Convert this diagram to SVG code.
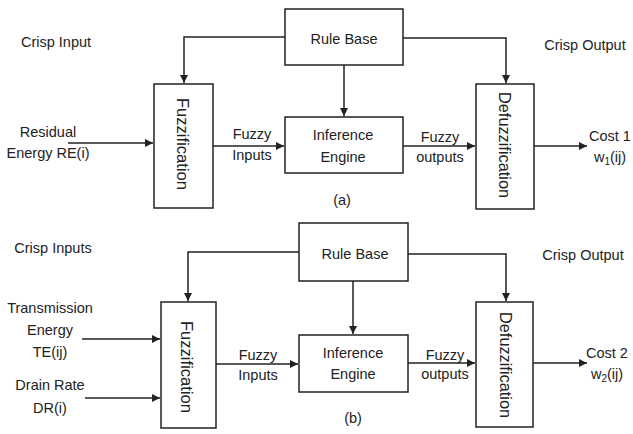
<svg xmlns="http://www.w3.org/2000/svg" width="633" height="434" viewBox="0 0 633 434">
<defs>
<style>
text{font-family:"Liberation Sans",Arial,sans-serif;font-size:14.5px;fill:#222;text-anchor:middle}
.box{fill:#fff;stroke:#222;stroke-width:1.5}
.rot{font-size:16px}
.con path{fill:none;stroke:#222;stroke-width:1.5;marker-end:url(#ah)}
.con path.plain{marker-end:none}
</style>
<marker id="ah" markerUnits="userSpaceOnUse" markerWidth="9" markerHeight="8" refX="8" refY="4" orient="auto">
<path d="M0,0 L8,4 L0,8 z" fill="#222"/>
</marker>
</defs>
<rect width="633" height="434" fill="#fff"/>

<g id="connectors" class="con">
<path d="M285,37 H184 V83"/>
<path d="M344,65 V116"/>
<path d="M403,38 H506 V83"/>
<path d="M68,143 H153"/>
<path d="M213,146 H284"/>
<path d="M403,146 H475"/>
<path d="M534,146 H587"/>
<path d="M299,252 H188 V301"/>
<path d="M353,281 V334"/>
<path d="M408,254 H506 V301"/>
<path d="M82,339 H160"/>
<path d="M85,398 H160"/>
<path d="M216,364 H298"/>
<path d="M408,363 H475"/>
<path d="M533,363 H587"/>
</g>

<g id="a-labels">
<text x="56" y="47">Crisp Input</text>
<text x="585" y="50">Crisp Output</text>
<text x="48" y="137">Residual</text>
<text x="48" y="158">Energy RE(i)</text>
<text x="252" y="139">Fuzzy</text>
<text x="252" y="160">Inputs</text>
<text x="440" y="142">Fuzzy</text>
<text x="440" y="162">outputs</text>
<text x="610" y="141">Cost 1</text>
<text x="610" y="162">w<tspan font-size="10" dy="3">1</tspan><tspan dy="-3">(ij)</tspan></text>
<text x="342" y="205">(a)</text>
</g>
<g id="a-rulebase"><rect class="box" x="285" y="9" width="118" height="56"/><text x="344" y="44">Rule Base</text></g>
<g id="a-fuzzification"><rect class="box" x="154" y="84" width="59" height="124"/><text class="rot" transform="translate(182,144) rotate(90)" y="5.5" textLength="92" lengthAdjust="spacingAndGlyphs">Fuzzification</text></g>
<g id="a-inference"><rect class="box" x="285" y="117" width="118" height="56"/><text x="343" y="140">Inference</text><text x="343" y="162">Engine</text></g>
<g id="a-defuzzification"><rect class="box" x="476" y="84" width="58" height="125"/><text class="rot" transform="translate(504,145) rotate(90)" y="5.5" textLength="106" lengthAdjust="spacingAndGlyphs">Defuzzification</text></g>

<g id="b-labels">
<text x="53" y="253">Crisp Inputs</text>
<text x="583" y="260">Crisp Output</text>
<text x="50" y="313">Transmission</text>
<text x="50" y="335">Energy</text>
<text x="50" y="357">TE(ij)</text>
<text x="50" y="390">Drain Rate</text>
<text x="50" y="413">DR(i)</text>
<text x="258" y="360">Fuzzy</text>
<text x="258" y="380">Inputs</text>
<text x="445" y="360">Fuzzy</text>
<text x="445" y="379">outputs</text>
<text x="607" y="358">Cost 2</text>
<text x="607" y="379">w<tspan font-size="10" dy="3">2</tspan><tspan dy="-3">(ij)</tspan></text>
<text x="353" y="423">(b)</text>
</g>
<g id="b-rulebase"><rect class="box" x="299" y="223" width="109" height="58"/><text x="355" y="259">Rule Base</text></g>
<g id="b-fuzzification"><rect class="box" x="161" y="302" width="55" height="126"/><text class="rot" transform="translate(186,367) rotate(90)" y="5.5" textLength="92" lengthAdjust="spacingAndGlyphs">Fuzzification</text></g>
<g id="b-inference"><rect class="box" x="299" y="335" width="109" height="57"/><text x="353" y="358">Inference</text><text x="353" y="379">Engine</text></g>
<g id="b-defuzzification"><rect class="box" x="476" y="302" width="57" height="125"/><text class="rot" transform="translate(505,365) rotate(90)" y="5.5" textLength="106" lengthAdjust="spacingAndGlyphs">Defuzzification</text></g>
</svg>
